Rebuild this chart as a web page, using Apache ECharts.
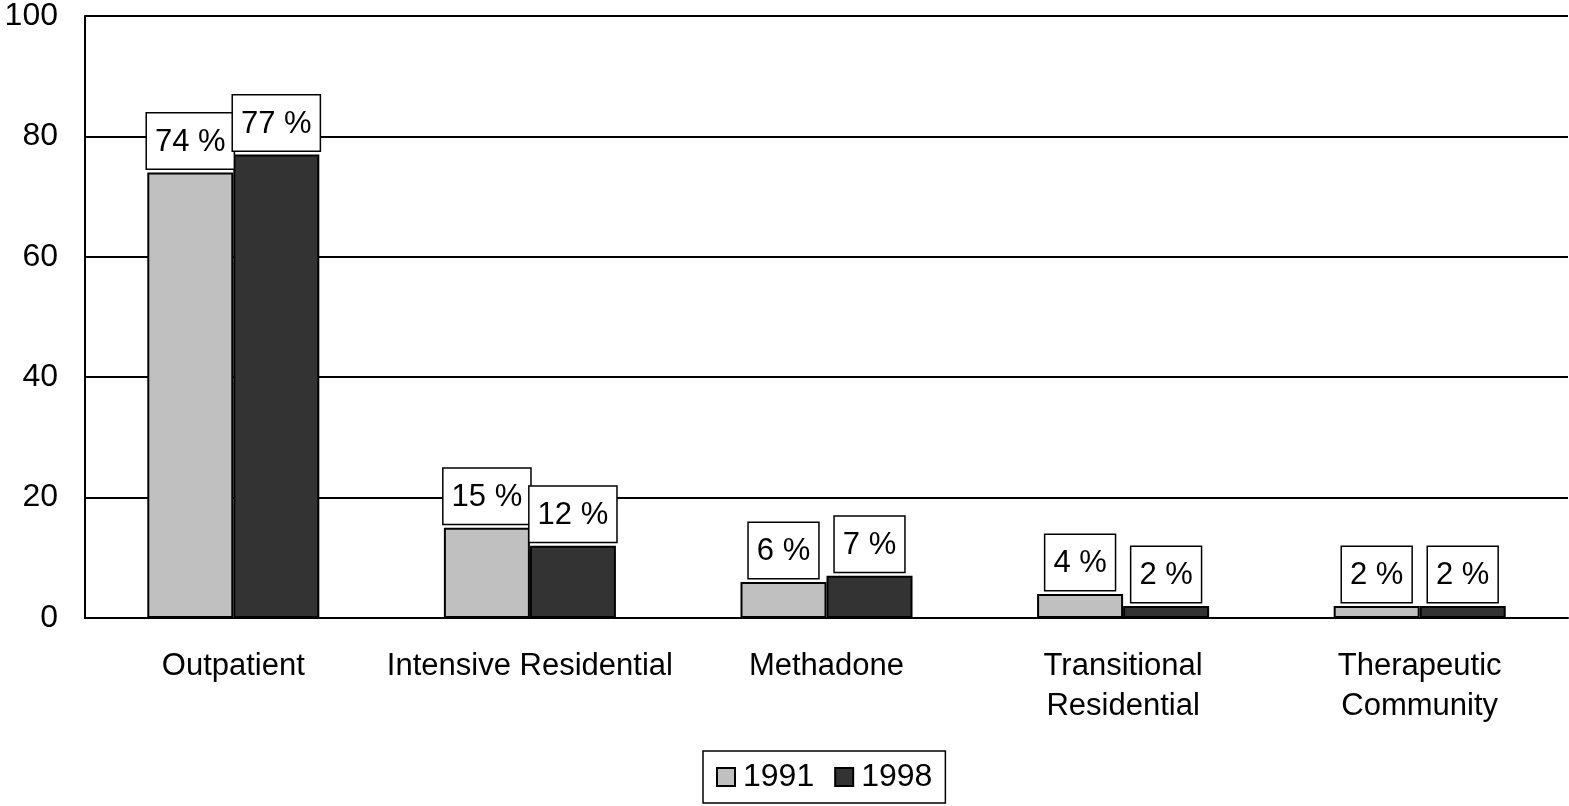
<!DOCTYPE html>
<html>
<head>
<meta charset="utf-8">
<script src="https://cdn.jsdelivr.net/npm/echarts@6/dist/echarts.min.js"></script>
<style>
  html, body { margin: 0; padding: 0; background: #fff; }
  #main { width: 1569px; height: 806px; }
</style>
</head>
<body>
<div id="main"></div>
<script>
// 数据
var categories = ['Outpatient', 'Intensive Residential', 'Methadone', 'Transitional\nResidential', 'Therapeutic\nCommunity']
var data1991 = [74, 15, 6, 4, 2]
var data1998 = [77, 12, 7, 2, 2]
var yTicks = { min: 0, max: 100, interval: 20 }

var font = 'Liberation Sans, Arial, sans-serif'
var labelStyle = {
  show: true,
  position: 'top',
  distance: 4,
  formatter: '{c} %',
  fontFamily: font,
  fontSize: 31,
  color: '#000',
  backgroundColor: '#fff',
  borderColor: '#000',
  borderWidth: 1.5,
  padding: [11, 8, 9, 8],
  lineHeight: 35
}

var myChart = echarts.init(document.getElementById('main'))
var option = {
  animation: false,
  textStyle: { fontFamily: font },
  grid: {
    left: 85,
    right: 1,
    top: 15,
    bottom: 188
  },
  legend: {
    bottom: 3,
    left: 703, // 图例居中于绘图区
    data: ['1991', '1998'],
    borderColor: '#000',
    borderWidth: 1.5,
    padding: [9, 13, 9, 13],
    itemGap: 20,
    itemWidth: 18,
    itemHeight: 18,
    icon: 'rect',
    textStyle: { fontSize: 32, color: '#000', fontFamily: font, padding: [0, 0, 0, 3], lineHeight: 34 }
  },
  xAxis: {
    type: 'category',
    data: categories,
    axisLine: { lineStyle: { color: '#000', width: 2 } },
    axisTick: { show: false },
    axisLabel: {
      interval: 0,
      margin: 28,
      fontSize: 31,
      lineHeight: 40,
      color: '#000',
      fontFamily: font
    }
  },
  yAxis: {
    type: 'value',
    min: yTicks.min,
    max: yTicks.max,
    interval: yTicks.interval,
    axisLine: { show: true, lineStyle: { color: '#000', width: 2 } },
    axisTick: { show: false },
    axisLabel: { margin: 27, fontSize: 32, color: '#000', fontFamily: font },
    splitLine: { show: true, lineStyle: { color: '#000', width: 2 } }
  },
  series: [
    {
      name: '1991',
      type: 'bar',
      data: data1991,
      barGap: 0,
      barCategoryGap: '42%',
      itemStyle: { color: '#c0c0c0', borderColor: '#000', borderWidth: 2 },
      label: labelStyle
    },
    {
      name: '1998',
      type: 'bar',
      data: data1998,
      barGap: 0,
      barCategoryGap: '42%',
      itemStyle: { color: '#333333', borderColor: '#000', borderWidth: 2 },
      label: labelStyle
    }
  ]
}
myChart.setOption(option)
</script>
</body>
</html>
